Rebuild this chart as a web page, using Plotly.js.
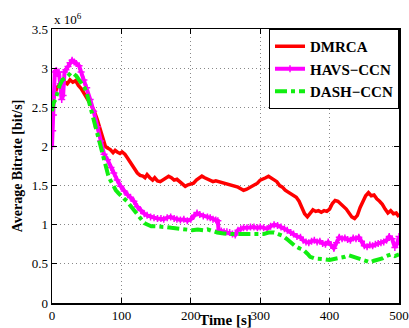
<!DOCTYPE html>
<html>
<head>
<meta charset="utf-8">
<script src="https://cdn.plot.ly/plotly-3.0.1.min.js"></script>
<style>html,body{margin:0;padding:0;background:#fff;}#chart{width:409px;height:328px;}</style>
</head>
<body>
<div id="chart"></div>
<script>
// Time [s] and Average Bitrate (x 10^6 bit/s)
var dmrcaT = [0,3,7,12,17,22,26,30,34,38,42,46,50,55,60,65,70,74,77,80,84,88,91,94,98,101,105,109,113,117,120,123,127,131,134,137,141,145,148,152,156,160,164,168,172,176,180,184,188,192,196,200,204,208,212,216,220,224,228,232,236,240,244,248,252,256,260,264,268,272,276,280,284,288,292,296,300,304,308,312,316,320,324,328,332,336,340,344,348,352,356,360,364,368,372,376,380,384,388,392,396,400,404,408,412,416,420,424,428,432,436,440,444,448,452,456,460,464,468,472,476,480,484,488,492,496,500];
var dmrcaV = [2.55,2.64,2.75,2.8,2.83,2.8,2.85,2.82,2.84,2.78,2.74,2.68,2.62,2.55,2.47,2.35,2.21,2.1,2.0,1.98,1.96,1.92,1.95,1.93,1.91,1.93,1.9,1.85,1.79,1.74,1.7,1.66,1.63,1.62,1.6,1.64,1.6,1.57,1.6,1.56,1.55,1.57,1.6,1.62,1.6,1.57,1.58,1.55,1.52,1.49,1.51,1.52,1.53,1.57,1.6,1.62,1.6,1.58,1.56,1.55,1.56,1.55,1.54,1.53,1.53,1.52,1.5,1.49,1.48,1.46,1.44,1.45,1.47,1.49,1.5,1.53,1.57,1.58,1.6,1.62,1.6,1.58,1.55,1.5,1.48,1.44,1.42,1.4,1.38,1.35,1.3,1.23,1.14,1.1,1.15,1.19,1.17,1.18,1.16,1.18,1.17,1.2,1.27,1.31,1.3,1.27,1.23,1.2,1.15,1.1,1.08,1.12,1.22,1.3,1.37,1.41,1.37,1.38,1.33,1.3,1.26,1.2,1.15,1.18,1.14,1.15,1.1];

var havsT = [0,1,2,3,4,6,8,10,12,14,16,18,20,23,26,29,32,35,39,42,46,50,55,60,65,70,75,80,85,89,94,99,104,109,113,118,123,128,133,137,142,147,152,157,161,166,171,176,180,185,190,195,200,205,209,213,218,224,228,232,236,239,240,244,248,252,256,260,264,268,272,276,281,286,291,296,300,305,310,315,320,325,330,335,339,344,348,353,358,362,366,370,374,378,382,386,390,394,398,402,406,410,414,418,422,426,430,434,438,442,446,450,454,458,462,466,470,474,478,482,486,490,494,497,500];
var havsV = [2.0,2.2,2.4,2.7,2.95,2.97,2.93,2.95,2.8,2.6,2.65,2.95,2.98,3.02,3.07,3.1,3.08,3.06,3.03,2.95,2.85,2.75,2.6,2.45,2.25,2.07,1.9,1.83,1.73,1.66,1.57,1.49,1.43,1.38,1.35,1.3,1.23,1.18,1.14,1.12,1.1,1.09,1.08,1.08,1.07,1.09,1.1,1.08,1.07,1.06,1.07,1.05,1.07,1.12,1.15,1.13,1.11,1.1,1.09,1.07,1.06,1.05,0.93,0.92,0.91,0.91,0.9,0.88,0.87,0.93,0.95,0.96,0.96,0.97,0.97,0.96,0.97,0.96,0.95,0.98,1.0,0.99,0.97,0.95,0.93,0.9,0.88,0.85,0.84,0.8,0.78,0.77,0.79,0.8,0.78,0.79,0.76,0.75,0.78,0.74,0.7,0.77,0.84,0.82,0.83,0.81,0.8,0.83,0.82,0.84,0.79,0.73,0.72,0.74,0.73,0.75,0.76,0.77,0.78,0.8,0.85,0.82,0.71,0.75,0.85];

var dashT = [0,2,5,8,11,15,19,23,27,31,35,39,43,47,51,55,59,63,67,70,74,77,81,84,88,92,96,100,104,108,113,118,123,128,133,138,143,148,155,164,172,180,188,195,202,210,218,224,230,238,245,252,260,268,276,284,291,298,305,312,320,326,332,338,344,350,356,362,368,372,378,385,392,400,408,416,422,428,434,440,446,452,458,464,470,476,482,488,494,500];
var dashV = [2.45,2.55,2.6,2.7,2.78,2.85,2.87,2.9,2.94,2.93,2.9,2.85,2.8,2.75,2.65,2.51,2.38,2.25,2.1,1.97,1.85,1.74,1.63,1.57,1.5,1.44,1.4,1.36,1.33,1.3,1.24,1.19,1.12,1.06,1.02,1.0,0.98,0.98,0.97,0.97,0.96,0.95,0.94,0.93,0.93,0.94,0.93,0.94,0.92,0.9,0.89,0.88,0.88,0.88,0.88,0.89,0.89,0.89,0.88,0.9,0.9,0.88,0.86,0.82,0.77,0.73,0.7,0.68,0.63,0.59,0.57,0.57,0.56,0.55,0.56,0.57,0.59,0.61,0.59,0.57,0.55,0.53,0.52,0.54,0.55,0.57,0.6,0.62,0.6,0.62];

var xTicks = [0,100,200,300,400,500];
var yTicks = [0,0.5,1,1.5,2,2.5,3,3.5];

var serif = "'Liberation Serif', 'Times New Roman', serif";

var traces = [
  {x: dmrcaT, y: dmrcaV, name: "<b>DMRCA</b>", type: "scatter", mode: "lines",
   line: {color: "#ff0000", width: 3.5}},
  {x: havsT, y: havsV, name: "<b>HAVS\u2212CCN</b>", type: "scatter", mode: "lines+markers",
   line: {color: "#ff00ff", width: 4},
   marker: {color: "#ff00ff", symbol: "cross-thin", size: 5, line: {color: "#ff00ff", width: 1.5}}},
  {x: dashT, y: dashV, name: "<b>DASH\u2212CCN</b>", type: "scatter", mode: "lines",
   line: {color: "#11ee11", width: 4, dash: "dashdot"}}
];

var axisCommon = {
  showline: true, mirror: "ticks", linecolor: "#000", linewidth: 1.5,
  ticks: "inside", ticklen: 5, tickcolor: "#000",
  showgrid: true, gridcolor: "#888", griddash: "1px,3px", gridwidth: 1,
  zeroline: false,
  tickfont: {family: serif, size: 13, color: "#000"}
};

var layout = {
  width: 409, height: 328,
  margin: {l: 52, r: 10, t: 29, b: 25},
  paper_bgcolor: "#fff", plot_bgcolor: "#fff",
  showlegend: true,
  legend: {x: 1, xanchor: "right", y: 1, yanchor: "top",
    bordercolor: "#000", borderwidth: 1, bgcolor: "#fff",
    font: {family: serif, size: 15, color: "#000"},
    tracegroupgap: 0, itemwidth: 30},
  xaxis: Object.assign({}, axisCommon, {
    range: [0, 500], tickvals: xTicks, ticktext: xTicks.map(String),
    title: {text: "<b>Time [s]</b>", font: {family: serif, size: 15, color: "#000"}, standoff: 0}
  }),
  yaxis: Object.assign({}, axisCommon, {
    range: [0, 3.5], tickvals: yTicks, ticktext: yTicks.map(String),
    title: {text: "<b>Average Bitrate [bit/s]</b>", font: {family: serif, size: 14, color: "#000"}, standoff: 6}
  }),
  annotations: [{
    xref: "paper", yref: "paper", x: 0, y: 1, xanchor: "left", yanchor: "bottom",
    showarrow: false, text: "x 10<sup>6</sup>",
    font: {family: serif, size: 13, color: "#000"}
  }]
};

Plotly.newPlot("chart", traces, layout, {displayModeBar: false, staticPlot: true});
</script>
</body>
</html>
